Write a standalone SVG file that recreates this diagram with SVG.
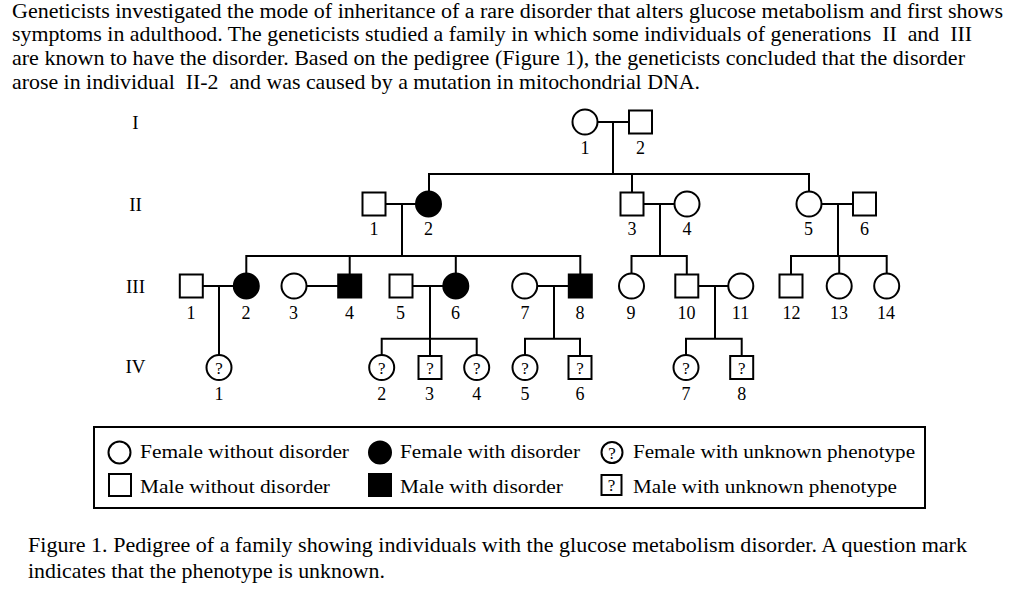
<svg xmlns="http://www.w3.org/2000/svg" width="1017" height="597" viewBox="0 0 1017 597">
<style>
.ln{stroke:#000;stroke-width:2;fill:none}
.o{fill:#fff;stroke:#000;stroke-width:2}
.f{fill:#000;stroke:#000;stroke-width:2}
.t{font-family:"Liberation Serif","Times New Roman",serif;fill:#000}
.p{font-size:21px;white-space:pre}
.lab{font-size:18px;text-anchor:middle}
.q{font-size:17px;text-anchor:middle}
.g{font-size:19px;text-anchor:middle}
.lg{font-size:19.5px}
</style>
<rect width="1017" height="597" fill="#fff"/>
<g id="question" class="t p">
<text x="12" y="17.8" font-size="20" textLength="991" lengthAdjust="spacingAndGlyphs">Geneticists investigated the mode of inheritance of a rare disorder that alters glucose metabolism and first shows</text>
<text x="12" y="40.8" textLength="960" lengthAdjust="spacingAndGlyphs" xml:space="preserve">symptoms in adulthood. The geneticists studied a family in which some individuals of generations  II  and  III</text>
<text x="12" y="65" textLength="953" lengthAdjust="spacingAndGlyphs">are known to have the disorder. Based on the pedigree (Figure 1), the geneticists concluded that the disorder</text>
<text x="12" y="89.3" textLength="688" lengthAdjust="spacingAndGlyphs" xml:space="preserve">arose in individual  II-2  and was caused by a mutation in mitochondrial DNA.</text>
</g>
<g id="generations" class="t g">
<text x="135.5" y="129.3">I</text>
<text x="135.5" y="211">II</text>
<text x="135.5" y="292.7">III</text>
<text x="135.5" y="373.3">IV</text>
</g>
<g id="connectors" class="ln">
<path d="M597.5 122H629M613 122V174"/>
<path d="M429 191.5V174H809V191.5M632 174V192.5"/>
<path d="M385.5 204H416M402 204V256M643.5 204H674.5M660 204V256M821.5 204H853M838 204V256"/>
<path d="M246.3 273.5V256H580.3V274.5M349.7 256V274.5M455.8 256V273.5"/>
<path d="M631.5 273.5V256H686.8V274.5"/>
<path d="M791 274.5V256H886.7V273.5M839.2 256V273.5"/>
<path d="M203 286H234M219 286V355M306.5 286H338.2M412.5 286H443.3M430 286V356M537.2 286H568.8M554 286V338.7M698.3 286H728.3M715 286V338.7"/>
<path d="M381.7 355V338.7H476.7V355M525 355V338.7H580V356M686 355V338.7H741.7V356"/>
</g>
<g id="I-1"><circle class="o" cx="585" cy="122" r="12.5"/><text class="t lab" x="585" y="154.3">1</text></g>
<g id="I-2"><rect class="o" x="629" y="110.5" width="23" height="23"/><text class="t lab" x="640.5" y="154.3">2</text></g>
<g id="II-1"><rect class="o" x="362.5" y="192.5" width="23" height="23"/><text class="t lab" x="374" y="235">1</text></g>
<g id="II-2"><circle class="f" cx="428.5" cy="204" r="12.5"/><text class="t lab" x="428.5" y="235">2</text></g>
<g id="II-3"><rect class="o" x="620.5" y="192.5" width="23" height="23"/><text class="t lab" x="632" y="235">3</text></g>
<g id="II-4"><circle class="o" cx="687" cy="204" r="12.5"/><text class="t lab" x="687" y="235">4</text></g>
<g id="II-5"><circle class="o" cx="809" cy="204" r="12.5"/><text class="t lab" x="808.5" y="235">5</text></g>
<g id="II-6"><rect class="o" x="853" y="192.5" width="23" height="23"/><text class="t lab" x="864.5" y="235">6</text></g>
<g id="III-1"><rect class="o" x="179.8" y="274.5" width="23" height="23"/><text class="t lab" x="191" y="318.7">1</text></g>
<g id="III-2"><circle class="f" cx="246.3" cy="286" r="12.5"/><text class="t lab" x="246" y="318.7">2</text></g>
<g id="III-3"><circle class="o" cx="294" cy="286" r="12.5"/><text class="t lab" x="293.5" y="318.7">3</text></g>
<g id="III-4"><rect class="f" x="338.2" y="274.5" width="23" height="23"/><text class="t lab" x="349.5" y="318.7">4</text></g>
<g id="III-5"><rect class="o" x="389.5" y="274.5" width="23" height="23"/><text class="t lab" x="400.5" y="318.7">5</text></g>
<g id="III-6"><circle class="f" cx="455.8" cy="286" r="12.5"/><text class="t lab" x="455.5" y="318.7">6</text></g>
<g id="III-7"><circle class="o" cx="524.7" cy="286" r="12.5"/><text class="t lab" x="525" y="318.7">7</text></g>
<g id="III-8"><rect class="f" x="568.8" y="274.5" width="23" height="23"/><text class="t lab" x="580" y="318.7">8</text></g>
<g id="III-9"><circle class="o" cx="631.5" cy="286" r="12.5"/><text class="t lab" x="631" y="318.7">9</text></g>
<g id="III-10"><rect class="o" x="675.3" y="274.5" width="23" height="23"/><text class="t lab" x="686.5" y="318.7">10</text></g>
<g id="III-11"><circle class="o" cx="740.8" cy="286" r="12.5"/><text class="t lab" x="740.5" y="318.7">11</text></g>
<g id="III-12"><rect class="o" x="779.5" y="274.5" width="23" height="23"/><text class="t lab" x="791.5" y="318.7">12</text></g>
<g id="III-13"><circle class="o" cx="839.2" cy="286" r="12.5"/><text class="t lab" x="839" y="318.7">13</text></g>
<g id="III-14"><circle class="o" cx="886.7" cy="286" r="12.5"/><text class="t lab" x="886" y="318.7">14</text></g>
<g id="IV-1"><circle class="o" cx="219" cy="367.5" r="12.5"/><text class="t q" x="219" y="373.5">?</text><text class="t lab" x="219" y="400">1</text></g>
<g id="IV-2"><circle class="o" cx="381.7" cy="367.5" r="12.5"/><text class="t q" x="381.7" y="373.5">?</text><text class="t lab" x="381.7" y="400">2</text></g>
<g id="IV-3"><rect class="o" x="418.5" y="356" width="23" height="23"/><text class="t q" x="430" y="373.5">?</text><text class="t lab" x="429.5" y="400">3</text></g>
<g id="IV-4"><circle class="o" cx="476.7" cy="367.5" r="12.5"/><text class="t q" x="476.7" y="373.5">?</text><text class="t lab" x="476.7" y="400">4</text></g>
<g id="IV-5"><circle class="o" cx="525" cy="367.5" r="12.5"/><text class="t q" x="525" y="373.5">?</text><text class="t lab" x="525" y="400">5</text></g>
<g id="IV-6"><rect class="o" x="568.5" y="356" width="23" height="23"/><text class="t q" x="580" y="373.5">?</text><text class="t lab" x="580" y="400">6</text></g>
<g id="IV-7"><circle class="o" cx="686" cy="367.5" r="12.5"/><text class="t q" x="686" y="373.5">?</text><text class="t lab" x="686" y="400">7</text></g>
<g id="IV-8"><rect class="o" x="730.2" y="356" width="23" height="23"/><text class="t q" x="741.7" y="373.5">?</text><text class="t lab" x="741.7" y="400">8</text></g>
<g id="legend">
<rect class="o" x="94" y="427" width="831" height="81"/>
<circle class="o" cx="119.5" cy="452.5" r="11"/>
<text class="t lg" x="140" y="458" textLength="209" lengthAdjust="spacingAndGlyphs">Female without disorder</text>
<circle class="f" cx="380" cy="452.5" r="11"/>
<text class="t lg" x="400" y="458" textLength="180" lengthAdjust="spacingAndGlyphs">Female with disorder</text>
<circle class="o" cx="612" cy="452.5" r="10.5"/>
<text class="t q" x="612" y="458.5">?</text>
<text class="t lg" x="633" y="458" textLength="282" lengthAdjust="spacingAndGlyphs">Female with unknown phenotype</text>
<rect class="o" x="109" y="474" width="22" height="22"/>
<text class="t lg" x="140" y="492.5" textLength="190" lengthAdjust="spacingAndGlyphs">Male without disorder</text>
<rect class="f" x="369" y="474" width="22" height="22"/>
<text class="t lg" x="400" y="492.5" textLength="163" lengthAdjust="spacingAndGlyphs">Male with disorder</text>
<rect class="o" x="601.5" y="475" width="20" height="20"/>
<text class="t q" x="611.5" y="491">?</text>
<text class="t lg" x="633" y="492.5" textLength="264" lengthAdjust="spacingAndGlyphs">Male with unknown phenotype</text>
</g>
<g id="caption" class="t p">
<text x="28" y="552.3" textLength="939" lengthAdjust="spacingAndGlyphs">Figure 1. Pedigree of a family showing individuals with the glucose metabolism disorder. A question mark</text>
<text x="28" y="578.3" textLength="357" lengthAdjust="spacingAndGlyphs">indicates that the phenotype is unknown.</text>
</g>
</svg>
